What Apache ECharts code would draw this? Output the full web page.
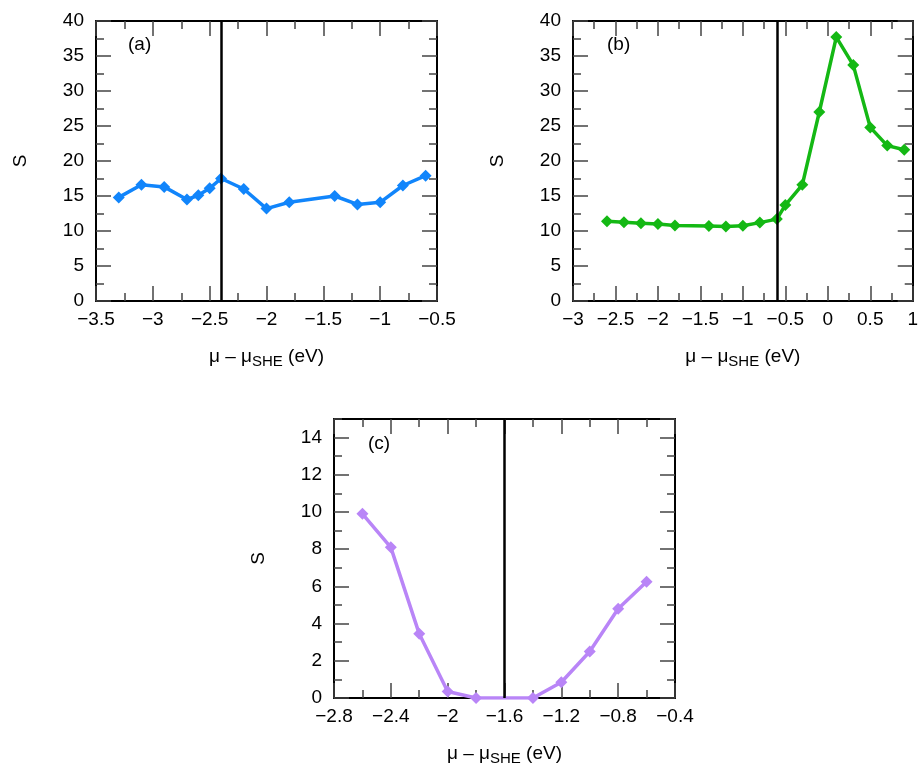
<!DOCTYPE html>
<html>
<head>
<meta charset="utf-8">
<script src="https://cdn.jsdelivr.net/npm/echarts@6/dist/echarts.min.js"></script>
<style>
html,body{margin:0;padding:0;background:#fff;}
#chart{width:921px;height:767px;}
</style>
</head>
<body>
<div id="chart"></div>
<script>
// Panel (a)
var xA = [-3.3, -3.1, -2.9, -2.7, -2.6, -2.5, -2.4, -2.2, -2.0, -1.8, -1.4, -1.2, -1.0, -0.8, -0.6];
var sA = [14.8, 16.6, 16.3, 14.5, 15.1, 16.1, 17.5, 16.0, 13.2, 14.1, 15.0, 13.8, 14.1, 16.5, 17.9];
var vlineA = -2.4;
// Panel (b)
var xB = [-2.6, -2.4, -2.2, -2.0, -1.8, -1.4, -1.2, -1.0, -0.8, -0.6, -0.5, -0.3, -0.1, 0.1, 0.3, 0.5, 0.7, 0.9];
var sB = [11.4, 11.25, 11.1, 11.0, 10.8, 10.7, 10.65, 10.75, 11.2, 11.7, 13.7, 16.6, 27.0, 37.7, 33.7, 24.8, 22.2, 21.6];
var vlineB = -0.6;
// Panel (c)
var xC = [-2.6, -2.4, -2.2, -2.0, -1.8, -1.4, -1.2, -1.0, -0.8, -0.6];
var sC = [9.9, 8.1, 3.45, 0.35, 0.0, 0.0, 0.85, 2.5, 4.8, 6.25];
var vlineC = -1.6;

var panelLabels = ['(a)', '(b)', '(c)'];
var yTitle = 'S';

var colA = '#1185fb', colB = '#14b814', colC = '#b985f7';
var FONT = 'Liberation Sans';
var FS = 19;

function fmt(step) {
  return function (v) {
    var r = v / step;
    if (Math.abs(r - Math.round(r)) > 1e-6) return '';
    var t = Math.round(v * 100) / 100;
    if (t === 0) return '0';
    return (t < 0 ? '\u2212' : '') + String(Math.abs(t));
  };
}

var grids = [
  {left: 96, top: 21, width: 341, height: 280},
  {left: 573, top: 21, width: 340, height: 280},
  {left: 334, top: 419, width: 341, height: 280}
];

// major (labelled) step, minor step
var xr = [
  {min: -3.5, max: -0.5, major: 0.5, minor: 0.25},
  {min: -3, max: 1, major: 0.5, minor: 0.25},
  {min: -2.8, max: -0.4, major: 0.4, minor: 0.2}
];
var yr = [
  {min: 0, max: 40, major: 5, minor: 2.5},
  {min: 0, max: 40, major: 5, minor: 2.5},
  {min: 0, max: 15, major: 2, minor: 1}
];

var xAxes = [], yAxes = [], series = [];
var axisLine = {show: true, onZero: false, lineStyle: {color: '#000', width: 2}};
var noLine = {show: false, onZero: false};
var majTick = {show: true, inside: true, length: 15, lineStyle: {color: '#444', width: 1.5}};
var minTick = {show: true, inside: true, length: 8, lineStyle: {color: '#444', width: 1.5}};
var labStyle = {color: '#000', fontFamily: FONT, fontSize: FS};

function ax(base, extra) { return Object.assign({}, base, extra); }

for (var i = 0; i < 3; i++) {
  var xb = {type: 'value', gridIndex: i, min: xr[i].min, max: xr[i].max, splitLine: {show: false}};
  xAxes.push(ax(xb, {
    position: 'bottom', interval: xr[i].major, axisLine: axisLine, axisTick: majTick,
    axisLabel: Object.assign({margin: 9, formatter: fmt(xr[i].major)}, labStyle),
    name: '{m|\u03bc \u2013 \u03bc}{sub|SHE}{m| (eV)}', nameLocation: 'middle', nameGap: 43,
    nameTextStyle: {rich: {
      m: {fontFamily: FONT, fontSize: FS, color: '#000'},
      sub: {fontFamily: FONT, fontSize: 15, color: '#000', padding: [10, 0, 0, 0]}
    }}
  }));
  xAxes.push(ax(xb, {position: 'top', interval: xr[i].major, axisLine: axisLine, axisTick: majTick, axisLabel: {show: false}}));
  xAxes.push(ax(xb, {position: 'bottom', interval: xr[i].minor, axisLine: noLine, axisTick: minTick, axisLabel: {show: false}}));
  xAxes.push(ax(xb, {position: 'top', interval: xr[i].minor, axisLine: noLine, axisTick: minTick, axisLabel: {show: false}}));

  var yb = {type: 'value', gridIndex: i, min: yr[i].min, max: yr[i].max, splitLine: {show: false}};
  yAxes.push(ax(yb, {
    position: 'left', interval: yr[i].major, axisLine: axisLine, axisTick: majTick,
    axisLabel: Object.assign({margin: 12, formatter: fmt(yr[i].major), showMaxLabel: (yr[i].max % yr[i].major === 0)}, labStyle),
    name: yTitle, nameLocation: 'middle', nameGap: 66, nameRotate: 90,
    nameTextStyle: {fontFamily: FONT, fontSize: FS, color: '#000'}
  }));
  yAxes.push(ax(yb, {position: 'right', interval: yr[i].major, axisLine: axisLine, axisTick: majTick, axisLabel: {show: false}}));
  yAxes.push(ax(yb, {position: 'left', interval: yr[i].minor, axisLine: noLine, axisTick: minTick, axisLabel: {show: false}}));
  yAxes.push(ax(yb, {position: 'right', interval: yr[i].minor, axisLine: noLine, axisTick: minTick, axisLabel: {show: false}}));
}

function mk(xs, ys, col, gi, vx) {
  return {
    type: 'line', xAxisIndex: gi * 4, yAxisIndex: gi * 4,
    data: xs.map(function (x, k) { return [x, ys[k]]; }),
    symbol: 'diamond', symbolSize: 12, showSymbol: true,
    lineStyle: {color: col, width: 3.5}, itemStyle: {color: col},
    z: 3,
    markLine: {
      silent: true, symbol: 'none', animation: false,
      label: {show: false},
      lineStyle: {color: '#000', width: 2.5, type: 'solid'},
      data: [{xAxis: vx}]
    }
  };
}
series.push(mk(xA, sA, colA, 0, vlineA));
series.push(mk(xB, sB, colB, 1, vlineB));
series.push(mk(xC, sC, colC, 2, vlineC));

var titlePos = [{left: 128, top: 35}, {left: 607, top: 35}, {left: 368, top: 434}];
var titles = panelLabels.map(function (t, k) {
  return {text: t, left: titlePos[k].left, top: titlePos[k].top, padding: 0,
    textStyle: {fontFamily: FONT, fontSize: FS, fontWeight: 'normal', color: '#000'}};
});

var chart = echarts.init(document.getElementById('chart'), null, {renderer: 'canvas'});
chart.setOption({
  animation: false,
  backgroundColor: '#fff',
  title: titles,
  grid: grids,
  xAxis: xAxes,
  yAxis: yAxes,
  series: series
});
</script>
</body>
</html>
